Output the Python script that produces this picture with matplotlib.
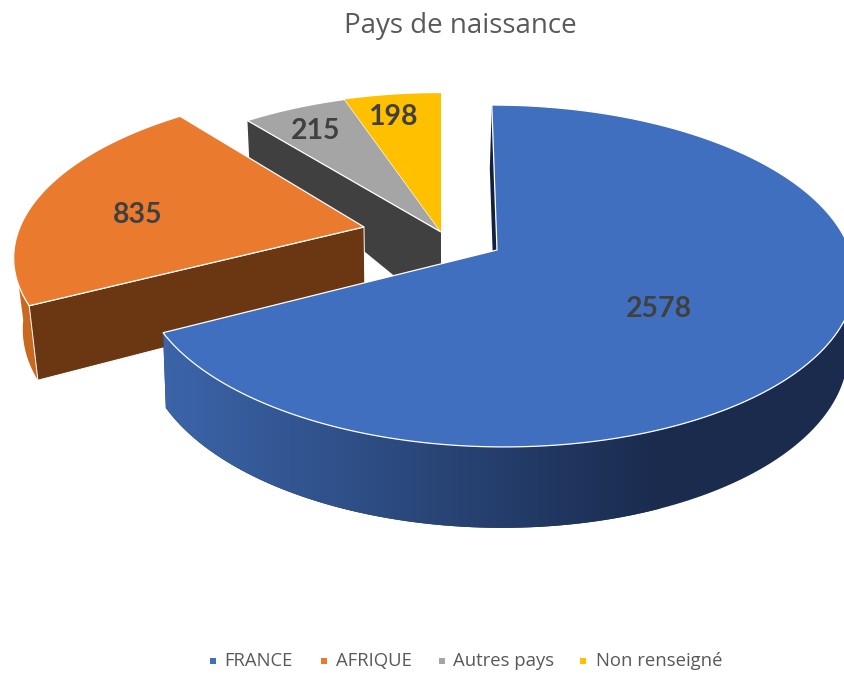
import numpy as np
import matplotlib
matplotlib.use("Agg")
import matplotlib.pyplot as plt
from matplotlib.colors import LinearSegmentedColormap
from matplotlib.patches import Polygon

plt.rcParams['font.family'] = ['Lato', 'DejaVu Sans']

# data
categories = ["FRANCE", "AFRIQUE", "Autres pays", "Non renseigné"]
values = [2578, 835, 215, 198]
title = "Pays de naissance"

# styles
top_colors = ["#3F6FBE", "#E97A2E", "#A5A5A5", "#FFC000"]
label_color = "#404040"
text_color = "#595959"

K = 0.152  # perspective


def proj(theta, r, h):
    # theta in degrees, clockwise from 12 o'clock, h = apex x, apex y, B, A, shear x
    ax0, ay0, B, A, Sx = h
    x = r * np.sin(np.radians(theta))
    y = r * np.cos(np.radians(theta))
    s = 1 + K * y
    return ax0 + (B * x + Sx * y) / s, ay0 - A * y / s


def arc(t1, t2, h, n=200):
    t = np.linspace(t1, t2, n)
    return np.column_stack(proj(t, 1.0, h))


def wedge_poly(t1, t2, h):
    apex = np.array([[h[0], h[1]]])
    return np.vstack([apex, arc(t1, t2, h), apex])


# slice start / end angles come from the values
total = sum(values)
edges = np.concatenate([[0], np.cumsum(values)]) / total * 360

# projection of top and bottom faces, one pair per slice
top_h = [(497, 250, 353, 167, -6), (364, 227, 344, 159, 13), (441, 232, 345, 160, 0), (441, 232, 345, 160, 0)]
low_h = [(495, 321, 348, 175.4, -6), (365, 296, 336, 170, 13), (441, 314, 342, 225, 0), (441, 314, 342, 225, 0)]

fig = plt.figure(figsize=(8.45, 6.73), dpi=100)
ax = fig.add_axes([0, 0, 1, 1])
ax.axis('off')

edge_c = "white"

# gray slice, cut face then top
t1, t2 = edges[2], edges[3]
face = np.array([[top_h[2][0], top_h[2][1]], proj(t1, 1, top_h[2]), proj(t1, 1, low_h[2]), [low_h[2][0], low_h[2][1]]])
ax.fill(face[:, 0], face[:, 1], color="#404040", lw=0, zorder=1)
p = wedge_poly(t1, t2, top_h[2])
ax.fill(p[:, 0], p[:, 1], fc=top_colors[2], ec=edge_c, lw=0.9, zorder=2)

# yellow slice
p = wedge_poly(edges[3], edges[4], top_h[3])
ax.fill(p[:, 0], p[:, 1], fc=top_colors[3], ec="none", zorder=2)

# orange slice
t1, t2 = edges[1], edges[2]
rim = np.vstack([arc(t1, 262, top_h[1]), arc(262, t1, low_h[1])])
ax.fill(rim[:, 0], rim[:, 1], color="#C9681F", lw=0, zorder=3)
face = np.array([[top_h[1][0], top_h[1][1]], proj(t1, 1, top_h[1]), proj(t1, 1, low_h[1]), [low_h[1][0], low_h[1][1]]])
ax.fill(face[:, 0], face[:, 1], fc="#6B3713", ec=edge_c, lw=0.7, zorder=4)
p = wedge_poly(t1, t2, top_h[1])
ax.fill(p[:, 0], p[:, 1], fc=top_colors[1], ec=edge_c, lw=0.9, zorder=5)

# blue slice: sliver of the cut face, rim with shading, top
t1, t2 = edges[0], edges[1]
face = np.array([[top_h[0][0], top_h[0][1]], proj(t1, 1, top_h[0]), proj(t1, 1, low_h[0]), [low_h[0][0], low_h[0][1]]])
ax.fill(face[:, 0], face[:, 1], color="#14213D", lw=0, zorder=6)

rim = np.vstack([arc(60, t2, top_h[0]), arc(t2, 60, low_h[0])])
rim_patch = Polygon(rim, closed=True, fc="none", ec="none", zorder=7)
ax.add_patch(rim_patch)
shade = LinearSegmentedColormap.from_list("shade", ["#3B64A8", "#1A2B4E"])
im = ax.imshow(np.linspace(0, 1, 256).reshape(1, -1), cmap=shade, extent=(170, 660, 600, 300), aspect='auto', zorder=7)
im.set_clip_path(rim_patch)
# imshow stops at its extent, colour past both ends is filled underneath
ax.fill(rim[:, 0], rim[:, 1], color="#1A2B4E", lw=0, zorder=6.5)
left = rim[rim[:, 0] < 171]
ax.fill(left[:, 0], left[:, 1], color="#3B64A8", lw=0, zorder=6.6)

p = wedge_poly(t1, t2, top_h[0])
ax.fill(p[:, 0], p[:, 1], fc=top_colors[0], ec=edge_c, lw=0.9, zorder=8)

# value labels
label_x = [659, 138, 316, 393]
label_y = [309, 215, 131, 117]
for v, x, y in zip(values, label_x, label_y):
    ax.text(x, y, str(v), ha='center', va='center', fontsize=20.5, fontweight='bold', color=label_color, zorder=10)

ax.text(460, 26, title, ha='center', va='center', fontsize=20, color=text_color, family='Open Sans')

# legend
mark_x = [213, 324, 442, 583]
text_x = [224, 336, 453, 596]
for name, c, mx, tx in zip(categories, top_colors, mark_x, text_x):
    ax.scatter([mx], [661], marker='s', s=24, color=c, lw=0)
    ax.text(tx, 661, name, ha='left', va='center', fontsize=13.3, color=text_color, family='Open Sans')

ax.set_xlim(0, 845)
ax.set_ylim(673, 0)

fig.savefig("out.png", dpi=100)
